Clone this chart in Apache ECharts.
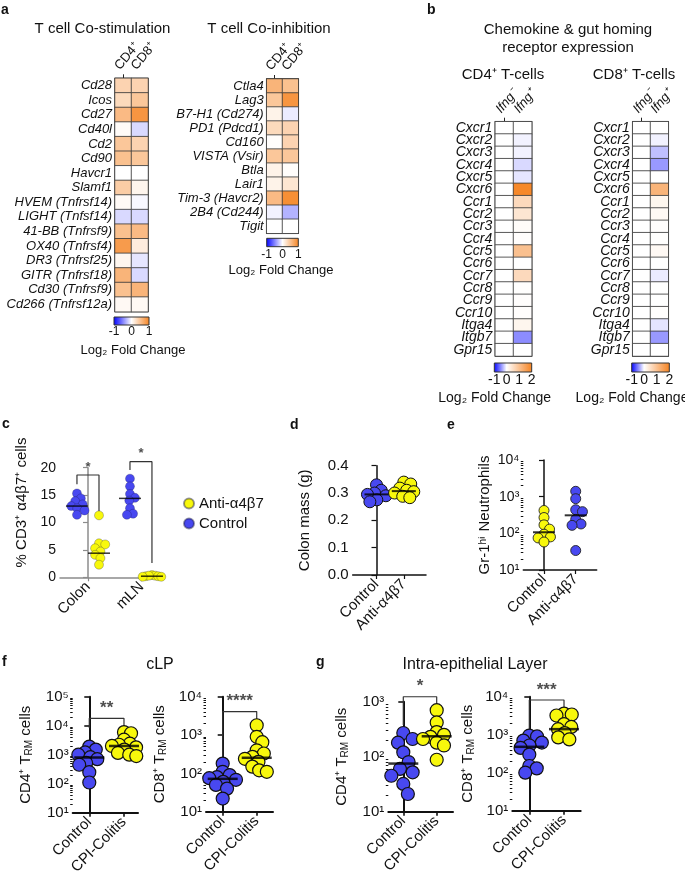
<!DOCTYPE html>
<html><head><meta charset="utf-8">
<script src="https://cdn.jsdelivr.net/npm/echarts@6/dist/echarts.min.js"></script>
<style>html,body{margin:0;padding:0;background:#fff}#c{width:685px;height:882px}</style>
</head><body><div id="c"></div>
<script>
// ---------- DATA ----------
const coStimGenes = ['Cd28','Icos','Cd27','Cd40l','Cd2','Cd90','Havcr1','Slamf1','HVEM (Tnfrsf14)','LIGHT (Tnfsf14)','41-BB (Tnfrsf9)','OX40 (Tnfrsf4)','DR3 (Tnfrsf25)','GITR (Tnfrsf18)','Cd30 (Tnfrsf9)','Cd266 (Tnfrsf12a)'];
const coStimCD4 = [0.35,0.3,0.55,0.03,0.45,0.5,0,0.4,0.04,-0.15,0.5,0.8,0.07,0.6,0.5,0.05];
const coStimCD8 = [0.35,0.45,0.85,-0.15,0.35,0.45,0,0.08,-0.03,-0.15,0.55,0.15,-0.1,-0.15,0.6,0.05];
const coInhGenes = ['Ctla4','Lag3','B7-H1 (Cd274)','PD1 (Pdcd1)','Cd160','VISTA (Vsir)','Btla','Lair1','Tim-3 (Havcr2)','2B4 (Cd244)','Tigit'];
const coInhCD4 = [0.6,0.45,0.1,0.3,0.02,0.45,0.1,0.1,0.55,-0.05,0];
const coInhCD8 = [0.5,0.85,-0.08,0.35,0.35,0.45,0.02,0.2,0.9,-0.3,0];
const cellCols = ['CD4⁺','CD8⁺'];
const chemoGenes = ['Cxcr1','Cxcr2','Cxcr3','Cxcr4','Cxcr5','Cxcr6','Ccr1','Ccr2','Ccr3','Ccr4','Ccr5','Ccr6','Ccr7','Ccr8','Ccr9','Ccr10','Itga4','Itgb7','Gpr15'];
const ifngCols = ['Ifng⁻','Ifng⁺'];
const cd4IfngNeg = [0,0,0,0,0,0,0,0,0,0,0,0,0,0,0,0,0,0,0];
const cd4IfngPos = [0,-0.05,-0.05,-0.15,-0.1,1.9,0.6,0.4,0.05,0.03,1.0,0,0.6,0.02,0.03,0.03,0.15,-0.45,0];
const cd8IfngNeg = [0,0,0,0,0,0,0,0,0,0,0,0,0,0,0,0,0,0,0];
const cd8IfngPos = [0,-0.05,-0.25,-0.4,0,1.2,0.15,0.1,0.03,0.02,0.1,0,-0.08,0,0,0.02,-0.1,-0.4,0];
const fcTicksA = ['-1','0','1'];
const fcTicksB = ['-1','0','1','2'];

const cCats = ['Colon','mLN'];
const cColonCtrl = [15.3,14.4,13.9,13.3,13.0,12.6,12.2,11.4];
const cColonAnti = [11.3,6.2,6.0,5.3,4.7,4.1,3.5,2.3];
const cMlnCtrl = [18.0,16.6,15.2,14.5,14.0,12.6,11.6,11.4];
const cMlnAnti = [0.4,0.3,0.2,0.2,0.1,0.3,0.1];
const cMedians = [13.0,4.4,14.4,0.2];
const cSig = ['*','*'];

const deCats = ['Control','Anti-α4β7'];
const dCtrl = [0.33,0.31,0.30,0.295,0.29,0.275,0.268];
const dAnti = [0.34,0.333,0.318,0.31,0.305,0.30,0.288,0.283];
const dMedians = [0.295,0.307];
const eCtrl = [420,270,170,130,95,80,75,58];
const eAnti = [1400,880,440,390,240,180,165,34];
const eMedians = [107,310];

const fgCats = ['Control','CPI-Colitis'];
const fCD4Ctrl = [1900,1500,1200,1000,820,700,520,450,250,110];
const fCD4Cpi = [6000,5500,3300,2400,2200,2000,1800,1500,1150,1000,900];
const fCD4Med = [800,2000];
const fCD8Ctrl = [180,110,90,80,75,68,60,50,40,22];
const fCD8Cpi = [1800,900,650,400,330,270,240,200,150,120,110];
const fCD8Med = [72,255];
const gCD4Ctrl = [270,210,180,120,80,60,52,45,32,21];
const gCD4Cpi = [700,420,280,250,230,210,180,160,88];
const gCD4Med = [75,235];
const gCD8Ctrl = [950,900,700,620,520,450,300,150,130,100];
const gCD8Cpi = [3600,3400,3200,1900,1600,1400,1100,850,750];
const gCD8Med = [480,1400];
const fgSig = ['**','****','*','***'];

// ---------- STYLE ----------
const FONT = '"Liberation Sans", Arial, Helvetica, sans-serif';
const BLUE = '#4848F0', YELLOW = '#F8F80C';
const HM_BLUE = '#0000FF', HM_ORANGE = '#F5821F', HM_MID = '#FAC08F';
const SUP = {'0':'⁰','1':'¹','2':'²','3':'³','4':'⁴','5':'⁵','6':'⁶'};
const logFmt = v => '10' + SUP[String(Math.round(Math.log10(v)))];

const grids = [], xAxis = [], yAxis = [], series = [], graphic = [];

function txt(text, x, y, fs, opt) {
  opt = opt || {};
  graphic.push({type: 'text', x, y, rotation: opt.rot || 0, silent: true, z: 10,
    style: {text, fontSize: fs, fontFamily: FONT, fontWeight: opt.fw || 'normal', fontStyle: opt.fst || 'normal',
      fill: '#111', align: opt.align || 'center', verticalAlign: opt.va || 'middle'}});
}

function heatmap(cfg) {
  const gi = grids.length;
  grids.push({left: cfg.left, top: cfg.top, width: cfg.width, height: cfg.height, show: true,
    borderColor: '#1a1a1a', borderWidth: 1.3, backgroundColor: '#fff'});
  const xi = xAxis.length, yi = yAxis.length;
  xAxis.push({type: 'category', gridIndex: gi, data: cfg.cols, position: 'top',
    axisLine: {show: false}, splitLine: {show: false},
    axisTick: {show: true, alignWithLabel: true, length: 4, lineStyle: {color: '#222', width: 1}},
    axisLabel: {show: false}});
  yAxis.push({type: 'category', gridIndex: gi, data: cfg.rows, inverse: true,
    axisLine: {show: false}, axisTick: {show: false}, splitLine: {show: false},
    axisLabel: {interval: 0, margin: 3, fontSize: cfg.fs, fontStyle: 'italic', fontFamily: FONT, color: '#111'}});
  const data = [];
  cfg.values.forEach((col, ci) => col.forEach((v, ri) => data.push([ci, ri, v])));
  series.push({type: 'heatmap', xAxisIndex: xi, yAxisIndex: yi, data,
    itemStyle: {borderColor: '#3a3a3a', borderWidth: 0.8}, emphasis: {disabled: true}, silent: true});
  // rotated column headers
  cfg.cols.forEach((c, i) => {
    const cx = cfg.left + cfg.width * (i + 0.5) / cfg.cols.length;
    txt(c, cx - 1, cfg.top - 6, 13, {rot: 50 * Math.PI / 180, align: 'left', va: 'bottom', fst: cfg.colItalic ? 'italic' : 'normal'});
  });
}

function swarm(values, yPix, d) {
  const order = values.map((v, i) => i).sort((a, b) => values[b] - values[a]);
  const placed = [], dx = new Array(values.length).fill(0);
  order.forEach(i => {
    const y = yPix(values[i]);
    const near = placed.filter(p => Math.abs(p.y - y) < d);
    const cands = [0];
    near.forEach(p => { const h = Math.sqrt(d * d - (p.y - y) ** 2); cands.push(p.x + h, p.x - h); });
    cands.sort((a, b) => Math.abs(a) - Math.abs(b));
    const x = cands.find(c => near.every(p => (p.x - c) ** 2 + (p.y - y) ** 2 >= d * d - 0.01));
    dx[i] = x; placed.push({x, y});
  });
  return dx;
}

function panel(p) {
  const gi = grids.length, g = p.grid;
  grids.push({left: g.left, top: g.top, width: g.width, height: g.height, show: false});
  const xi = xAxis.length;
  const line = {show: true, lineStyle: {color: p.axisColor, width: p.axisWidth}};
  xAxis.push({type: 'value', gridIndex: gi, min: p.xmin, max: p.xmax, axisLine: line, splitLine: {show: false},
    axisTick: {show: true, customValues: [0, 1], length: 4, lineStyle: {color: p.axisColor, width: p.axisWidth * 0.8}},
    axisLabel: {customValues: [0, 1], rotate: 45, margin: 7, fontSize: 15, fontFamily: FONT, color: '#111',
      formatter: v => p.cats[Math.round(v)]}});
  const yi = yAxis.length;
  const ya = {gridIndex: gi, position: 'left', min: p.ymin, max: p.ymax, axisLine: line, splitLine: {show: false},
    axisTick: {show: true, length: 5, lineStyle: {color: p.axisColor, width: p.axisWidth * 0.8}},
    axisLabel: {fontSize: p.yfs || 15, fontFamily: FONT, color: '#111', margin: 4, formatter: p.yfmt},
    name: p.yName, nameLocation: 'middle', nameGap: p.nameGap,
    nameTextStyle: {fontSize: 15, fontFamily: FONT, color: '#111', padding: p.namePad || 0,
      rich: {sub: {fontSize: 10, fontFamily: FONT, color: '#111', padding: [7, 0, 0, 0]}}}};
  if (p.ylog) { ya.type = 'log'; ya.logBase = 10; } else { ya.type = 'value'; ya.interval = p.interval; }
  yAxis.push(ya);
  if (p.ylog) {
    const a = Math.log10(p.ymin), b = Math.log10(p.ymax), mv = [];
    for (let dd = a; dd < b; dd++) for (let k = 2; k < 10; k++) mv.push(dd + Math.log10(k));
    yAxis.push({type: 'value', gridIndex: gi, position: 'left', min: a, max: b, axisLine: {show: false},
      axisLabel: {show: false}, splitLine: {show: false},
      axisTick: {show: true, customValues: mv, length: 2.5, lineStyle: {color: p.axisColor, width: 1}}});
  }
  const xs = g.width / (p.xmax - p.xmin);
  const yPix = p.ylog
    ? (v => { const a = Math.log10(p.ymin), b = Math.log10(p.ymax); return g.top + g.height * (1 - (Math.log10(v) - a) / (b - a)); })
    : (v => g.top + g.height * (1 - (v - p.ymin) / (p.ymax - p.ymin)));
  p.groups.forEach(gr => {
    const dx = swarm(gr.values, yPix, gr.diam * (gr.pack || p.pack));
    series.push({type: 'scatter', name: gr.name, xAxisIndex: xi, yAxisIndex: yi, symbol: 'circle', symbolSize: gr.diam, z: 3,
      itemStyle: {color: gr.color, borderColor: gr.border, borderWidth: gr.bw, opacity: 1},
      data: gr.values.map((v, i) => [gr.x + dx[i] / xs, v]), silent: true, clip: false});
  });
  series.push({type: 'scatter', xAxisIndex: xi, yAxisIndex: yi, symbol: 'rect', symbolSize: [p.medW, p.medH], z: 4,
    itemStyle: {color: '#000'}, data: p.groups.map(gr => [gr.x, gr.median]), silent: true, clip: false});
  (p.brackets || []).forEach(b => {
    series.push({type: 'line', xAxisIndex: xi, yAxisIndex: yi, data: [[b.x1, b.yl], [b.x1, b.yt], [b.x2, b.yt], [b.x2, b.yr]],
      symbol: 'none', lineStyle: {color: '#333', width: 1.2}, clip: false, silent: true, z: 2});
    series.push({type: 'scatter', xAxisIndex: xi, yAxisIndex: yi, data: [[(b.x1 + b.x2) / 2, b.yt]], symbolSize: 1,
      itemStyle: {color: 'rgba(0,0,0,0)'}, clip: false, silent: true,
      label: {show: true, position: 'top', distance: 1, formatter: b.text, fontSize: b.fs, fontWeight: 'bold', color: '#222', fontFamily: FONT}});
  });
}

// ---------- HEATMAPS ----------
heatmap({left: 115, top: 78.3, width: 33, height: 233.4, rows: coStimGenes, cols: cellCols, values: [coStimCD4, coStimCD8], fs: 13});
heatmap({left: 266.7, top: 79, width: 31.6, height: 154.3, rows: coInhGenes, cols: cellCols, values: [coInhCD4, coInhCD8], fs: 13});
heatmap({left: 495.3, top: 121.7, width: 36.4, height: 234.3, rows: chemoGenes, cols: ifngCols, values: [cd4IfngNeg, cd4IfngPos], fs: 14, colItalic: true});
heatmap({left: 632.7, top: 121.7, width: 35.6, height: 234.3, rows: chemoGenes, cols: ifngCols, values: [cd8IfngNeg, cd8IfngPos], fs: 14, colItalic: true});

// ---------- SCATTER PANELS ----------
const cBorder = 'rgba(20,20,60,0.45)';
panel({grid: {left: 60, top: 467.7, width: 98, height: 109.6}, xmin: -0.523, xmax: 1.309, cats: cCats,
  ymin: 0, ymax: 20, interval: 5, yfmt: v => String(v), yfs: 14, yName: '% CD3⁺ α4β7⁺ cells', nameGap: 31, namePad: [0, 0, 0, 40],
  axisColor: '#8c8c8c', axisWidth: 1.5, pack: 0.7, medW: 22, medH: 1.5,
  groups: [
    {name: 'Control', x: -0.206, values: cColonCtrl, color: BLUE, diam: 9, border: cBorder, bw: 0.6, median: cMedians[0]},
    {name: 'Anti-α4β7', x: 0.206, values: cColonAnti, color: YELLOW, diam: 9, border: cBorder, bw: 0.6, median: cMedians[1]},
    {name: 'Control', x: 0.785, values: cMlnCtrl, color: BLUE, diam: 9, border: cBorder, bw: 0.6, median: cMedians[2]},
    {name: 'Anti-α4β7', x: 1.196, values: cMlnAnti, color: YELLOW, diam: 9, border: cBorder, bw: 0.6, median: cMedians[3], pack: 0.35}],
  brackets: [{x1: -0.206, x2: 0.206, yl: 17.0, yt: 18.67, yr: 12.0, text: cSig[0], fs: 13},
             {x1: 0.785, x2: 1.196, yl: 19.6, yt: 21.1, yr: 2.6, text: cSig[1], fs: 13}]});

panel({grid: {left: 352.7, top: 465.7, width: 73.3, height: 109.3}, xmin: -0.872, xmax: 1.813, cats: deCats,
  ymin: 0, ymax: 0.4, interval: 0.1, yfmt: v => v.toFixed(1), yName: 'Colon mass (g)', nameGap: 40,
  axisColor: '#111', axisWidth: 1.5, pack: 0.6, medW: 24, medH: 2,
  groups: [
    {name: 'd-Control', x: 0, values: dCtrl, color: BLUE, diam: 12, border: '#111', bw: 1, median: dMedians[0]},
    {name: 'd-Anti', x: 1, values: dAnti, color: YELLOW, diam: 12, border: '#111', bw: 1, median: dMedians[1]}]});

panel({grid: {left: 523.3, top: 460, width: 73.4, height: 110}, xmin: -0.653, xmax: 1.662, cats: deCats,
  ylog: true, ymin: 10, ymax: 10000, yfmt: logFmt, yfs: 14, yName: 'Gr-1ʰⁱ Neutrophils', nameGap: 31,
  axisColor: '#111', axisWidth: 1.5, pack: 0.7, medW: 22, medH: 2,
  groups: [
    {name: 'e-Control', x: 0, values: eCtrl, color: YELLOW, diam: 10, border: '#222', bw: 0.9, median: eMedians[0]},
    {name: 'e-Anti', x: 1, values: eAnti, color: BLUE, diam: 10, border: '#222', bw: 0.9, median: eMedians[1]}]});

function fgPanel(grid, xmin, xmax, ymax, name, nameGap, ctrl, cpi, med, br, sig, packs) {
  panel({grid, xmin, xmax, cats: fgCats, ylog: true, ymin: 10, ymax, yfmt: logFmt, yName: name, nameGap,
    axisColor: '#111', axisWidth: 2, pack: 0.6, medW: 30, medH: 2.5,
    groups: [
      {name: name + '-c', x: 0, values: ctrl, color: BLUE, diam: 13, border: '#111', bw: 1.2, median: med[0], pack: packs[0]},
      {name: name + '-p', x: 1, values: cpi, color: YELLOW, diam: 13, border: '#111', bw: 1.2, median: med[1], pack: packs[1]}],
    brackets: [{x1: 0, x2: 1, yl: br[0], yt: br[1], yr: br[2], text: sig, fs: 17}]});
}
fgPanel({left: 72.7, top: 696.7, width: 65.3, height: 116}, -0.478, 1.404, 100000, 'CD4⁺ T{sub|RM} cells', 38, fCD4Ctrl, fCD4Cpi, fCD4Med, [8300, 18000, 9000], fgSig[0], [0.55, 0.55]);
fgPanel({left: 206, top: 696.7, width: 67, height: 115}, -0.491, 1.479, 10000, 'CD8⁺ T{sub|RM} cells', 38, fCD8Ctrl, fCD8Cpi, fCD8Med, [220, 4100, 2450], fgSig[1], [0.6, 0.6]);
fgPanel({left: 388.3, top: 701.7, width: 64.7, height: 110}, -0.449, 1.488, 1000, 'CD4⁺ T{sub|RM} cells', 38, gCD4Ctrl, gCD4Cpi, gCD4Med, [376, 1230, 870], fgSig[2], [0.85, 0.6]);
fgPanel({left: 512.3, top: 696.7, width: 68.4, height: 114}, -0.49, 1.481, 10000, 'CD8⁺ T{sub|RM} cells', 36, gCD8Ctrl, gCD8Cpi, gCD8Med, [1200, 8200, 4760], fgSig[3], [0.6, 0.6]);

// ---------- TEXT & COLORBARS ----------
function colorbar(x, y, w, h, stops, labels, ly, lfs, nameX, nameY, nfs) {
  graphic.push({type: 'rect', silent: true, shape: {x, y, width: w, height: h},
    style: {fill: new echarts.graphic.LinearGradient(0, 0, 1, 0, stops), stroke: '#333', lineWidth: 1}});
  labels.forEach((t, i) => txt(t, x + w * i / (labels.length - 1), ly, lfs));
  txt('Log₂ Fold Change', nameX, nameY, nfs);
}
const stopsA = [{offset: 0, color: HM_BLUE}, {offset: 0.5, color: '#FFFFFF'}, {offset: 1, color: HM_ORANGE}];
const stopsB = [{offset: 0, color: HM_BLUE}, {offset: 1 / 3, color: '#FFFFFF'}, {offset: 2 / 3, color: HM_MID}, {offset: 1, color: HM_ORANGE}];

[['a', 1, 10], ['b', 427, 10], ['c', 2, 424], ['d', 290, 425], ['e', 447, 425], ['f', 2, 662], ['g', 316, 662]]
  .forEach(l => txt(l[0], l[1], l[2], 14, {fw: 'bold', align: 'left'}));
txt('T cell Co-stimulation', 102.5, 29, 15);
txt('T cell Co-inhibition', 269, 29, 15);
txt('Chemokine & gut homing', 568, 30, 15);
txt('receptor expression', 568, 48, 15);
txt('CD4⁺ T-cells', 503, 75, 15);
txt('CD8⁺ T-cells', 634, 75, 15);
txt('cLP', 160, 665, 16);
txt('Intra-epithelial Layer', 475, 665, 16);
colorbar(114, 317, 35, 8, stopsA, fcTicksA, 332, 12, 133, 350, 13);
colorbar(266.7, 238.3, 31.6, 8.4, stopsA, fcTicksA, 255, 12, 281, 270, 13);
colorbar(494.3, 363, 37.4, 9, stopsB, fcTicksB, 380, 14, 494.7, 398, 14);
colorbar(631.7, 363, 37.6, 9, stopsB, fcTicksB, 380, 14, 632, 398, 14);

const chart = echarts.init(document.getElementById('c'), null, {renderer: 'canvas'});
chart.setOption({
  animation: false,
  backgroundColor: '#fff',
  textStyle: {fontFamily: FONT},
  grid: grids, xAxis, yAxis, series, graphic,
  visualMap: [
    {show: false, type: 'continuous', min: -1, max: 1, seriesIndex: [0, 1], dimension: 2, inRange: {color: [HM_BLUE, '#FFFFFF', HM_ORANGE]}},
    {show: false, type: 'continuous', min: -1, max: 2, seriesIndex: [2, 3], dimension: 2, inRange: {color: [HM_BLUE, '#FFFFFF', HM_MID, HM_ORANGE]}}
  ],
  legend: {data: ['Anti-α4β7', 'Control'], orient: 'vertical', left: 178, top: 491, itemWidth: 10, itemHeight: 10, itemGap: 5,
    icon: 'circle', selectedMode: false, textStyle: {fontSize: 15, fontFamily: FONT, color: '#111'}}
});
</script></body></html>
